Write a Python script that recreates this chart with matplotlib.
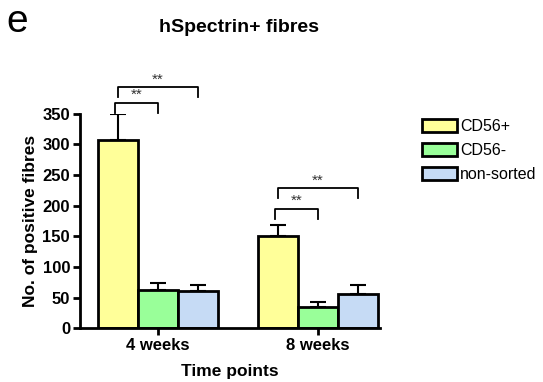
import matplotlib.pyplot as plt
import numpy as np

groups = ["4 weeks", "8 weeks"]
series = ["CD56+", "CD56-", "non-sorted"]
means = {
    "CD56+": [308, 150],
    "CD56-": [62, 34],
    "non-sorted": [60, 55],
}
errs = {
    "CD56+": [41, 18],
    "CD56-": [11, 9],
    "non-sorted": [11, 15],
}
colors = {"CD56+": "#FFFF99", "CD56-": "#99FF99", "non-sorted": "#C6DBF5"}

# significance brackets: (group, bar i, bar j, height, label)
brackets = [
    (0, 0, 1, 368, "**"),
    (0, 0, 2, 394, "**"),
    (1, 0, 1, 195, "**"),
    (1, 0, 2, 229, "**"),
]

plt.rcParams["font.family"] = ["Liberation Sans", "DejaVu Sans"]

fig = plt.figure(figsize=(5.43, 3.82), dpi=100)
ax = fig.add_axes([0.147, 0.141, 0.553, 0.561])

width = 0.25
x = np.arange(len(groups))
for i, s in enumerate(series):
    pos = x + (i - 1) * width
    ax.bar(pos, means[s], width, color=colors[s], edgecolor="black",
           linewidth=2, label=s, zorder=2)
    ax.errorbar(pos, means[s], yerr=[np.zeros(2), errs[s]], fmt="none",
                ecolor="black", elinewidth=1.5, capsize=6, capthick=1.5,
                zorder=1)

for g, i, j, h, lab in brackets:
    x1 = g + (i - 1) * width
    x2 = g + (j - 1) * width
    if i == 0 and j == 1:
        x1 -= 0.02
    ax.plot([x1, x1, x2, x2], [h - 16, h, h, h - 16], color="black",
            lw=1.3, clip_on=False)
    ax.text((x1 + x2) / 2, h + 1, lab, ha="center", va="bottom",
            fontsize=11, color="#333333", clip_on=False)

ax.set_xlim(-0.49, 1.39)
ax.set_ylim(0, 350)
ax.set_yticks(range(0, 351, 50))
ax.set_xticks(x)
ax.set_xticklabels(groups, fontweight="bold", fontsize=12)
for t in ax.get_yticklabels():
    t.set_fontweight("bold")
    t.set_fontsize(12)
ax.tick_params(direction="out", width=2, length=5, pad=2)
ax.spines["top"].set_visible(False)
ax.spines["right"].set_visible(False)
ax.spines["left"].set_linewidth(2)
ax.spines["bottom"].set_linewidth(2)

ax.set_ylabel("No. of positive fibres", fontweight="bold", fontsize=12.5,
              labelpad=3)
ax.set_xlabel("Time points", fontweight="bold", fontsize=12.5, labelpad=8)

fig.text(0.44, 0.929, "hSpectrin+ fibres", fontweight="bold", fontsize=14,
         ha="center", va="center")
fig.text(0.012, 1 - 32 / 382, "e", fontsize=28, ha="left", va="baseline")

leg = ax.legend(loc="upper left", bbox_to_anchor=(422 / 543, 1 - 119 / 382),
                bbox_transform=fig.transFigure, frameon=False,
                borderpad=0, borderaxespad=0,
                fontsize=11.5, handlelength=2.2, handleheight=0.9,
                handletextpad=0.2, labelspacing=0.55)

plt.savefig("out.png", dpi=100)
